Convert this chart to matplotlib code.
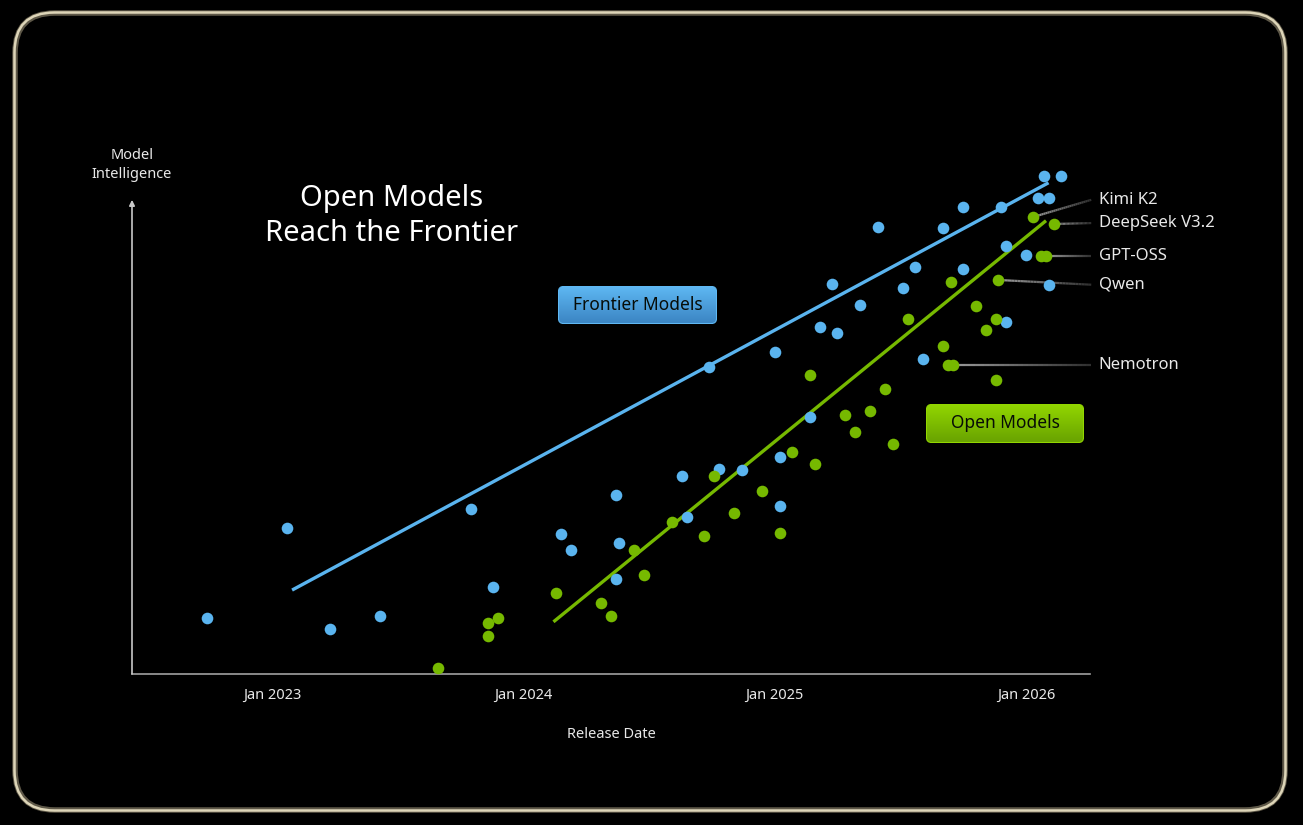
import numpy as np
import matplotlib
matplotlib.use("Agg")
import matplotlib.pyplot as plt
from matplotlib.patches import FancyBboxPatch
from matplotlib.collections import LineCollection
from matplotlib.colors import LinearSegmentedColormap, to_rgb

# ---- data (release date as decimal year, intelligence index) ----
frontier_date = [2022.74, 2023.06, 2023.23, 2023.43, 2023.79, 2023.88, 2024.15, 2024.19,
                 2024.37, 2024.38, 2024.37, 2024.63, 2024.65, 2024.78, 2024.87, 2024.74,
                 2025.02, 2025.02, 2025.00, 2025.14, 2025.18, 2025.23, 2025.25, 2025.34,
                 2025.41, 2025.51, 2025.56, 2025.59, 2025.67, 2025.75, 2025.75, 2025.90,
                 2025.92, 2025.92, 2026.00, 2026.05, 2026.09, 2026.07, 2026.14, 2026.09]
frontier_score = [11.8, 30.8, 9.5, 12.2, 34.8, 18.4, 29.5, 26.2,
                  37.8, 27.6, 20.0, 41.8, 33.1, 43.2, 43.0, 64.8,
                  45.8, 35.4, 67.9, 54.2, 73.2, 82.3, 71.9, 77.8,
                  94.3, 81.4, 85.9, 66.5, 94.1, 85.4, 98.5, 98.5,
                  90.3, 74.3, 88.4, 100.4, 100.4, 105.1, 105.1, 82.1]

open_date = [2023.66, 2023.86, 2023.86, 2023.90, 2024.13, 2024.31, 2024.35, 2024.44,
             2024.48, 2024.59, 2024.72, 2024.76, 2024.84, 2024.95, 2025.02, 2025.07,
             2025.16, 2025.14, 2025.28, 2025.32, 2025.38, 2025.44, 2025.47, 2025.53,
             2025.67, 2025.69, 2025.71, 2025.70, 2025.80, 2025.84, 2025.88, 2025.88,
             2025.89, 2026.03, 2026.11, 2026.06, 2026.08]
open_score = [1.3, 8.0, 10.8, 11.8, 17.1, 15.0, 12.2, 26.2,
              20.9, 32.1, 29.1, 41.8, 34.0, 38.6, 29.7, 46.8,
              44.3, 63.1, 54.6, 51.1, 55.5, 60.1, 48.5, 74.9,
              69.2, 65.2, 65.2, 82.7, 77.6, 72.6, 74.9, 62.0,
              83.1, 96.4, 94.9, 88.2, 88.2]

frontier_trend_date = [2023.08, 2026.09]
frontier_trend_score = [17.7, 103.6]
open_trend_date = [2024.12, 2026.08]
open_trend_score = [11.0, 95.6]

label_names = ["Kimi K2", "DeepSeek V3.2", "GPT-OSS", "Qwen", "Nemotron"]
label_dot_date = [2026.03, 2026.11, 2026.08, 2025.89, 2025.70]
label_dot_score = [96.4, 94.9, 88.2, 83.1, 65.2]
label_text_score = [100.0, 95.1, 88.2, 82.1, 65.2]

tick_years = [2023, 2024, 2025, 2026]
tick_labels = ["Jan 2023", "Jan 2024", "Jan 2025", "Jan 2026"]

BLUE = "#5ab4ef"
GREEN = "#76b900"
W, H = 1303, 825

plt.rcParams['font.family'] = ['Noto Sans', 'DejaVu Sans']


def draw_button(fig, x0, y0, w, h, text, top, bottom):
    bax = fig.add_axes([x0 / W, 1 - (y0 + h) / H, w / W, h / H])
    bax.set_xlim(0, w)
    bax.set_ylim(0, h)
    bax.axis('off')
    grad = np.linspace(0, 1, 64).reshape(-1, 1)
    cmap = LinearSegmentedColormap.from_list('btn', [bottom, top])
    im = bax.imshow(grad, extent=[0, w, 0, h], origin='lower', cmap=cmap, aspect='auto')
    patch = FancyBboxPatch((0.5, 0.5), w - 1, h - 1, boxstyle='round,pad=0,rounding_size=5',
                           fc='none', ec=top, lw=0.8)
    bax.add_patch(patch)
    im.set_clip_path(patch)
    bax.text(w / 2, h / 2, text, ha='center', va='center', fontsize=12.5, color='#070c07',
             fontweight='medium')


def main():
    fig = plt.figure(figsize=(W / 100, H / 100), dpi=100, facecolor='black')

    # frame
    bg = fig.add_axes([0, 0, 1, 1], zorder=-1)
    bg.set_xlim(0, W)
    bg.set_ylim(H, 0)
    bg.axis('off')
    bg.add_patch(FancyBboxPatch((15, 13), 1270, 797, boxstyle='round,pad=0,rounding_size=40',
                                fc='black', ec='#5e5848', lw=4))
    bg.add_patch(FancyBboxPatch((14.5, 12.5), 1271, 798, boxstyle='round,pad=0,rounding_size=40',
                                fc='none', ec='#ddd5b8', lw=1.8))

    ax = fig.add_axes([132 / W, (H - 674) / H, (1090 - 132) / W, (674 - 160) / H])
    ax.set_facecolor('none')
    x0, x1 = 2022.443, 2026.255
    ax.set_xlim(x0, x1)
    ax.set_ylim(0, 108.4)
    for s in ['top', 'right', 'left']:
        ax.spines[s].set_visible(False)
    ax.spines['bottom'].set_color('#a0a0a0')
    ax.spines['bottom'].set_linewidth(1.2)
    ax.set_yticks([])
    ax.set_xticks(tick_years)
    ax.set_xticklabels(tick_labels)
    ax.tick_params(axis='x', length=0, pad=10, labelsize=10.5, labelcolor='#e8e8e8')
    ax.set_xlabel('Release Date', color='#e8e8e8', fontsize=10.5, labelpad=17)

    # y axis arrow
    ax.annotate('', xy=(x0, 100), xytext=(x0, 0),
                arrowprops=dict(arrowstyle='-|>', color='#c8c8c8', lw=1.2, mutation_scale=8,
                                shrinkA=0, shrinkB=0), annotation_clip=False)
    fig.text(132 / W, 1 - 165 / H, 'Model\nIntelligence', ha='center', va='center',
             fontsize=10.5, color='#e8e8e8', linespacing=1.35)

    # leader lines to labels
    line_end = 2026.26
    c0, c1 = np.array(to_rgb('#9a9a9a')), np.array(to_rgb('#2c2c2c'))
    for name, dx, dy, ty in zip(label_names, label_dot_date, label_dot_score, label_text_score):
        t = np.linspace(0, 1, 30)
        xs = dx + (line_end - dx) * t
        ys = dy + (ty - dy) * t
        segs = np.stack([np.column_stack([xs[:-1], ys[:-1]]), np.column_stack([xs[1:], ys[1:]])], axis=1)
        cols = [tuple(c0 + (c1 - c0) * v) for v in t[:-1]]
        lc = LineCollection(segs, colors=cols, linewidths=1.6, zorder=1, clip_on=False)
        ax.add_collection(lc)
        ax.text(2026.29, ty, name, ha='left', va='center', fontsize=12, color='#e8e8e8',
                clip_on=False)

    ax.plot(frontier_trend_date, frontier_trend_score, color=BLUE, lw=2.4,
            solid_capstyle='butt', zorder=2, clip_on=False)
    ax.plot(open_trend_date, open_trend_score, color=GREEN, lw=2.4,
            solid_capstyle='butt', zorder=2, clip_on=False)

    ax.scatter(frontier_date, frontier_score, s=70, color=BLUE, lw=0, zorder=3, clip_on=False)
    ax.scatter(open_date, open_score, s=70, color=GREEN, lw=0, zorder=3, clip_on=False)

    fig.text(392 / W, 1 - 216 / H, 'Open Models\nReach the Frontier', ha='center', va='center',
             fontsize=21, color='white', linespacing=1.28, fontweight='medium')

    draw_button(fig, 558, 286, 159, 38, 'Frontier Models', '#5fb8f3', '#3a84c2')
    draw_button(fig, 926, 404, 158, 39, 'Open Models', '#92d600', '#68a200')

    fig.savefig('out.png', dpi=100, facecolor='black')


if __name__ == "__main__":
    main()
